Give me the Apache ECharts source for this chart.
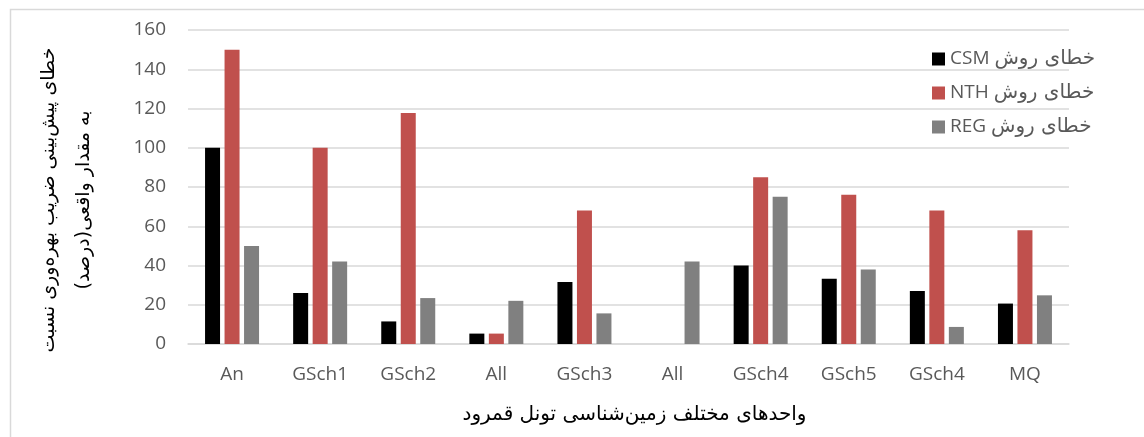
<!DOCTYPE html>
<html>
<head>
<meta charset="utf-8">
<script src="https://cdn.jsdelivr.net/npm/echarts@6/dist/echarts.min.js"></script>
<style>
html,body{margin:0;padding:0;background:#fff;}
#c{width:1144px;height:437px;}
</style>
</head>
<body>
<div id="c" dir="rtl"></div>
<script>
const categories = ['An','GSch1','GSch2','All','GSch3','All','GSch4','GSch5','GSch4','MQ'];
const seriesNames = ['خطای روش CSM','خطای روش NTH','خطای روش REG'];
const csm = [100, 26, 11.5, 5.3, 31.6, null, 40, 33.3, 27, 20.6];
const nth = [150, 100, 117.7, 5.3, 68, null, 85, 76, 68, 58];
const reg = [50, 42, 23.4, 22, 15.6, 42, 75, 38, 8.7, 24.8];
const yTicks = [0, 20, 40, 60, 80, 100, 120, 140, 160];
const xTitle = 'واحدهای مختلف زمین‌شناسی تونل قمرود';
const yTitle = 'خطای پیش‌بینی ضریب بهره‌وری نسبت\nبه مقدار واقعی(درصد)';

const colors = ['#000000', '#C0504D', '#808080'];
const txt = '#595959';
const chart = echarts.init(document.getElementById('c'), null, {renderer: 'canvas'});
chart.setOption({
  animation: false,
  backgroundColor: '#fff',
  graphic: [{
    type: 'rect', left: 8, top: 7,
    shape: {width: 1160, height: 460},
    style: {fill: 'none', stroke: '#D9D9D9', lineWidth: 1.5},
    silent: true
  }],
  grid: {left: 188, right: 75, top: 30, bottom: 93, containLabel: false},
  legend: {
    orient: 'vertical', left: 927, top: 44,
    itemWidth: 13, itemHeight: 13, itemGap: 14,
    icon: 'rect',
    formatter: function (name) {
      const i = name.lastIndexOf(' ');
      return '{l|' + name.slice(i + 1) + '} {a|' + name.slice(0, i) + '}';
    },
    textStyle: {
      color: txt, fontSize: 19, fontFamily: 'Open Sans', lineHeight: 20,
      rich: {
        l: {color: txt, fontSize: 19, fontFamily: 'Open Sans', lineHeight: 20},
        a: {color: txt, fontSize: 20, fontFamily: 'DejaVu Sans', lineHeight: 20}
      }
    },
    data: seriesNames
  },
  xAxis: {
    type: 'category', data: categories,
    axisLine: {lineStyle: {color: '#D9D9D9', width: 1.5}},
    axisTick: {show: false},
    axisLabel: {color: txt, fontSize: 19, fontFamily: 'Open Sans', margin: 21, interval: 0},
    name: xTitle, nameLocation: 'middle', nameGap: 61,
    nameTextStyle: {color: '#000', fontSize: 20, fontFamily: 'DejaVu Sans', padding: [0, 0, 0, 12]}
  },
  yAxis: {
    type: 'value', min: yTicks[0], max: yTicks[yTicks.length - 1], interval: 20,
    axisLine: {show: false}, axisTick: {show: false},
    splitLine: {lineStyle: {color: '#D9D9D9', width: 1.5}},
    axisLabel: {color: txt, fontSize: 19, fontFamily: 'Open Sans', margin: 22},
    name: yTitle, nameLocation: 'middle', nameGap: 86, nameRotate: 90,
    nameTextStyle: {color: '#000', fontSize: 19, fontFamily: 'DejaVu Sans', lineHeight: 35, align: 'center', padding: [0, 26, 0, 0]}
  },
  series: [
    {name: seriesNames[0], type: 'bar', data: csm, barWidth: 15, barGap: '30%', itemStyle: {color: colors[0]}},
    {name: seriesNames[1], type: 'bar', data: nth, barWidth: 15, barGap: '30%', itemStyle: {color: colors[1]}},
    {name: seriesNames[2], type: 'bar', data: reg, barWidth: 15, barGap: '30%', itemStyle: {color: colors[2]}}
  ]
});
</script>
</body>
</html>
